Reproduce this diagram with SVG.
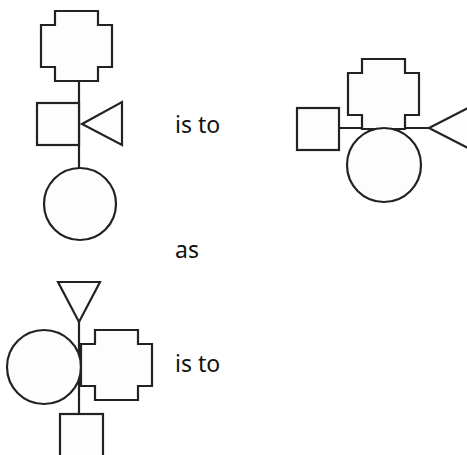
<svg xmlns="http://www.w3.org/2000/svg" width="467" height="455" viewBox="0 0 467 455">
<defs>
<style>
.s{fill:#fdfdfd;stroke:#222;stroke-width:2.2;stroke-linejoin:miter}
.c{fill:none;stroke:#222;stroke-width:2.2}
.t{font-family:"Noto Sans","Open Sans",sans-serif;font-size:23px;fill:#111}
</style>
<path id="cross" d="M14,0 H57 V14 H71 V56 H57 V70 H14 V56 H0 V14 H14 Z"/>
</defs>
<rect width="467" height="455" fill="#fff"/>
<g id="connectors">
<line class="c" x1="79" y1="81" x2="79" y2="168"/>
<line class="c" x1="339" y1="128" x2="429" y2="128"/>
<line class="c" x1="79" y1="321" x2="79" y2="414"/>
</g>
<g id="p1-cross"><use href="#cross" class="s" transform="translate(41,11)"/></g>
<g id="p1-square"><rect class="s" x="37" y="103" width="42" height="42"/></g>
<g id="p1-triangle"><polygon class="s" points="82,124 122,102 122,145"/></g>
<g id="p1-circle"><circle class="s" cx="80" cy="204" r="36"/></g>
<g id="p2-square"><rect class="s" x="297" y="108" width="42" height="42"/></g>
<g id="p2-cross"><use href="#cross" class="s" transform="translate(348,59)"/></g>
<g id="p2-circle"><circle class="s" cx="384" cy="165" r="37"/></g>
<g id="p2-triangle"><polygon class="s" points="429,128 470,107 470,149"/></g>
<g id="p3-triangle"><polygon class="s" points="58,282 100,282 79,322"/></g>
<g id="p3-circle"><circle class="s" cx="44" cy="367" r="37"/></g>
<g id="p3-cross"><use href="#cross" class="s" transform="translate(81,330)"/></g>
<g id="p3-square"><rect class="s" x="60" y="414" width="43" height="43"/></g>
<text class="t" x="175" y="133">is to</text>
<text class="t" x="175" y="258">as</text>
<text class="t" x="175" y="372">is to</text>
</svg>
